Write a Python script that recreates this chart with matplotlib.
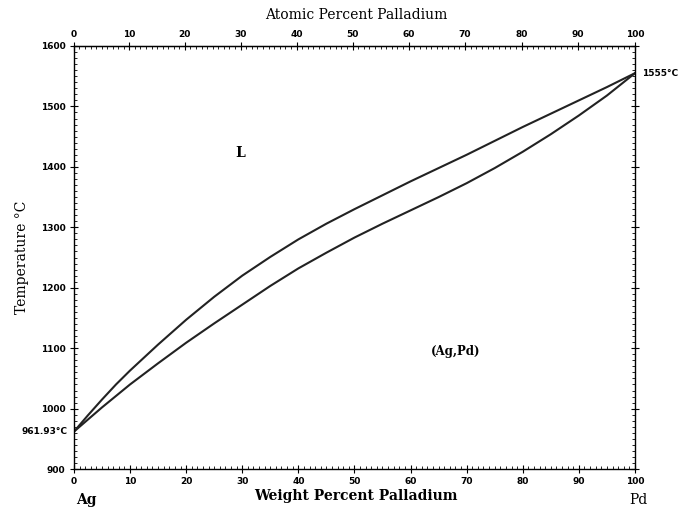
import matplotlib
matplotlib.use("Agg")
import matplotlib.pyplot as plt
import numpy as np
from matplotlib.ticker import MultipleLocator

# Data (weight percent Pd, temperature in °C)
wt_pd = [0, 2.5, 5, 7.5, 10, 15, 20, 25, 30, 35, 40, 45, 50, 55, 60, 65, 70, 75, 80,
         85, 90, 95, 100]
liquidus = [961.93, 989, 1015, 1040, 1063, 1106, 1147, 1185, 1220, 1251, 1280, 1306,
            1330, 1353, 1376, 1398, 1420, 1443, 1466, 1488, 1510, 1532, 1555]
solidus = [961.93, 982, 1002, 1021, 1040, 1075, 1109, 1141, 1172, 1203, 1232, 1258,
           1283, 1306, 1328, 1350, 1373, 1398, 1425, 1454, 1485, 1518, 1555]

x_ticks = [0, 10, 20, 30, 40, 50, 60, 70, 80, 90, 100]
y_ticks = [900, 1000, 1100, 1200, 1300, 1400, 1500, 1600]

M_AG = 107.868
M_PD = 106.42


def wt_to_at(w):
    w = np.asarray(w, dtype=float)
    a = w / M_PD
    b = (100 - w) / M_AG
    with np.errstate(divide="ignore", invalid="ignore"):
        return 100 * a / (a + b)


def at_to_wt(x):
    x = np.asarray(x, dtype=float)
    a = x * M_PD
    b = (100 - x) * M_AG
    with np.errstate(divide="ignore", invalid="ignore"):
        return 100 * a / (a + b)


fig = plt.figure(figsize=(6.78, 5.11), dpi=100)
ax = fig.add_axes([0.109, 0.082, 0.8275, 0.828])

ax.plot(wt_pd, liquidus, color="#222222", lw=1.5)
ax.plot(wt_pd, solidus, color="#222222", lw=1.5)

ax.set_xlim(0, 100)
ax.set_ylim(900, 1600)
ax.set_xticks(x_ticks)
ax.set_yticks(y_ticks)
ax.xaxis.set_minor_locator(MultipleLocator(1))
ax.yaxis.set_minor_locator(MultipleLocator(10))
ax.tick_params(axis="both", which="major", direction="inout", length=6, width=0.8,
               labelsize=6.5, top=False, right=True, pad=3)
ax.tick_params(axis="both", which="minor", direction="in", length=2.5, width=0.6,
               right=True)
for lab in ax.get_xticklabels() + ax.get_yticklabels():
    lab.set_fontfamily("DejaVu Sans")
    lab.set_fontweight("bold")
ax.tick_params(axis="y", labelright=False)
for s in ax.spines.values():
    s.set_linewidth(1.0)

sec = ax.secondary_xaxis("top", functions=(wt_to_at, at_to_wt))
sec.set_xticks(x_ticks)
sec.xaxis.set_minor_locator(MultipleLocator(1))
sec.tick_params(which="major", direction="inout", length=6, width=0.8, labelsize=6.5, pad=2)
sec.tick_params(which="minor", direction="in", length=2.5, width=0.6)
for lab in sec.get_xticklabels():
    lab.set_fontweight("bold")

serif = "DejaVu Serif"
fig.text(0.525, 0.97, "Atomic Percent Palladium", ha="center", va="center",
         fontsize=10, family=serif)
fig.text(0.525, 0.03, "Weight Percent Palladium", ha="center", va="center",
         fontsize=10, family=serif, fontweight="bold")
fig.text(0.033, 0.497, "Temperature °C", ha="center", va="center", rotation=90,
         fontsize=10, family=serif)
fig.text(0.128, 0.022, "Ag", ha="center", va="center", fontsize=10, family=serif,
         fontweight="bold")
fig.text(0.941, 0.022, "Pd", ha="center", va="center", fontsize=10, family=serif)

ax.text(-1.2, 961.93, "961.93°C", ha="right", va="center", fontsize=6.5,
        fontweight="bold")
ax.text(101.2, 1555, "1555°C", ha="left", va="center", fontsize=6.5,
        fontweight="bold")
ax.text(29.6, 1423, "L", ha="center", va="center", fontsize=10, family=serif,
        fontweight="bold")
ax.text(68, 1095, "(Ag,Pd)", ha="center", va="center", fontsize=8.5, family=serif,
        fontweight="bold")

fig.savefig("out.png", dpi=100)
